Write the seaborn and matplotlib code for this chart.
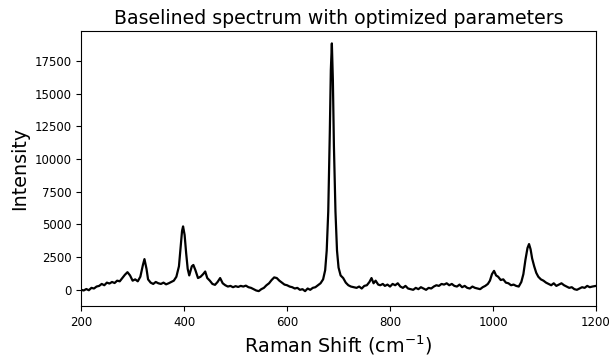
import matplotlib
matplotlib.use("Agg")
import matplotlib.pyplot as plt
import seaborn as sns
import pandas as pd

raman_shift = [
    200, 205, 210, 215, 220, 225, 230, 235, 240, 245, 250, 255, 260, 265, 270, 275, 280, 285, 290, 295,
    300, 305, 310, 315, 320, 323, 327, 330, 335, 340, 345, 350, 355, 360, 365, 370, 375, 380, 385, 390,
    393, 396, 398, 401, 404, 407, 410, 415, 418, 422, 427, 432, 437, 441, 445, 450, 455, 460, 465, 470,
    475, 480, 485, 490, 495, 500, 505, 510, 515, 520, 525, 530, 535, 540, 545, 550, 555, 560, 565, 570,
    575, 580, 585, 590, 595, 600, 605, 610, 615, 620, 625, 630, 635, 640, 645, 650, 655, 660, 665, 670,
    674, 677, 680, 683, 685, 687, 689, 691, 694, 697, 700, 704, 709, 714, 719, 724, 730, 735, 740, 745,
    750, 755, 760, 764, 768, 772, 777, 781, 786, 790, 795, 800, 805, 810, 815, 820, 825, 830, 835, 840,
    845, 850, 855, 860, 865, 870, 875, 880, 885, 890, 895, 900, 905, 910, 915, 920, 925, 930, 935, 940,
    945, 950, 955, 960, 965, 970, 975, 980, 985, 990, 994, 998, 1002, 1006, 1010, 1015, 1020, 1025, 1030, 1035,
    1040, 1045, 1050, 1055, 1059, 1063, 1067, 1070, 1073, 1076, 1080, 1084, 1088, 1093, 1098, 1103, 1108, 1113, 1118, 1123,
    1128, 1133, 1138, 1143, 1148, 1153, 1158, 1163, 1168, 1173, 1178, 1183, 1188, 1193, 1200,
]

intensity = [
    0, -50, 60, -30, 150, 100, 250, 300, 450, 350, 550, 480, 600, 520, 700, 650, 900, 1150, 1350, 1100,
    700, 800, 650, 1000, 1900, 2350, 1600, 800, 550, 450, 600, 500, 450, 550, 420, 500, 600, 700, 1000, 1800,
    3200, 4500, 4850, 4200, 2800, 1600, 1100, 1800, 1900, 1500, 900, 1000, 1200, 1400, 900, 700, 450, 380, 600, 900,
    500, 350, 250, 300, 200, 280, 220, 300, 250, 320, 200, 150, 50, -50, -100, 50, 150, 350, 500, 750,
    950, 900, 700, 550, 400, 350, 250, 200, 100, 150, 0, 50, -100, 100, 0, 150, 200, 350, 500, 800,
    1500, 3000, 6000, 12000, 16800, 18850, 16000, 11000, 6000, 3000, 1700, 1100, 900, 550, 350, 250, 200, 150, 250, 100,
    300, 350, 600, 900, 500, 700, 400, 350, 450, 300, 400, 250, 450, 350, 500, 250, 150, 300, 100, 50,
    0, 150, 50, 200, 100, 0, 150, 100, 250, 350, 300, 450, 400, 500, 350, 450, 300, 250, 400, 200,
    300, 150, 100, 250, 150, 100, 50, 200, 300, 450, 700, 1200, 1450, 1100, 1000, 750, 800, 550, 500, 350,
    400, 300, 250, 600, 1200, 2300, 3200, 3500, 3100, 2400, 1800, 1300, 1000, 800, 700, 550, 450, 350, 500, 300,
    400, 500, 350, 250, 150, 200, 50, 0, 100, 200, 150, 300, 200, 250, 300,
]

x_ticks = [200, 400, 600, 800, 1000, 1200]
y_ticks = [0, 2500, 5000, 7500, 10000, 12500, 15000, 17500]

df = pd.DataFrame({"shift": raman_shift, "intensity": intensity})

fig = plt.figure(figsize=(6.1, 3.56), dpi=100)
ax = fig.add_axes([0.133, 0.140, 0.844, 0.773])
sns.lineplot(data=df, x="shift", y="intensity", color="black", linewidth=1.6, ax=ax)
ax.set_xlim(200, 1200)
ax.set_ylim(-1250, 19800)
ax.set_xticks(x_ticks)
ax.set_yticks(y_ticks)
ax.tick_params(labelsize=8.5)
ax.set_xlabel("Raman Shift (cm$^{-1}$)", fontsize=13.8, labelpad=3)
ax.set_ylabel("Intensity", fontsize=13.8)
ax.set_title("Baselined spectrum with optimized parameters", fontsize=13.6, pad=5)
fig.savefig("out.png", dpi=100)
